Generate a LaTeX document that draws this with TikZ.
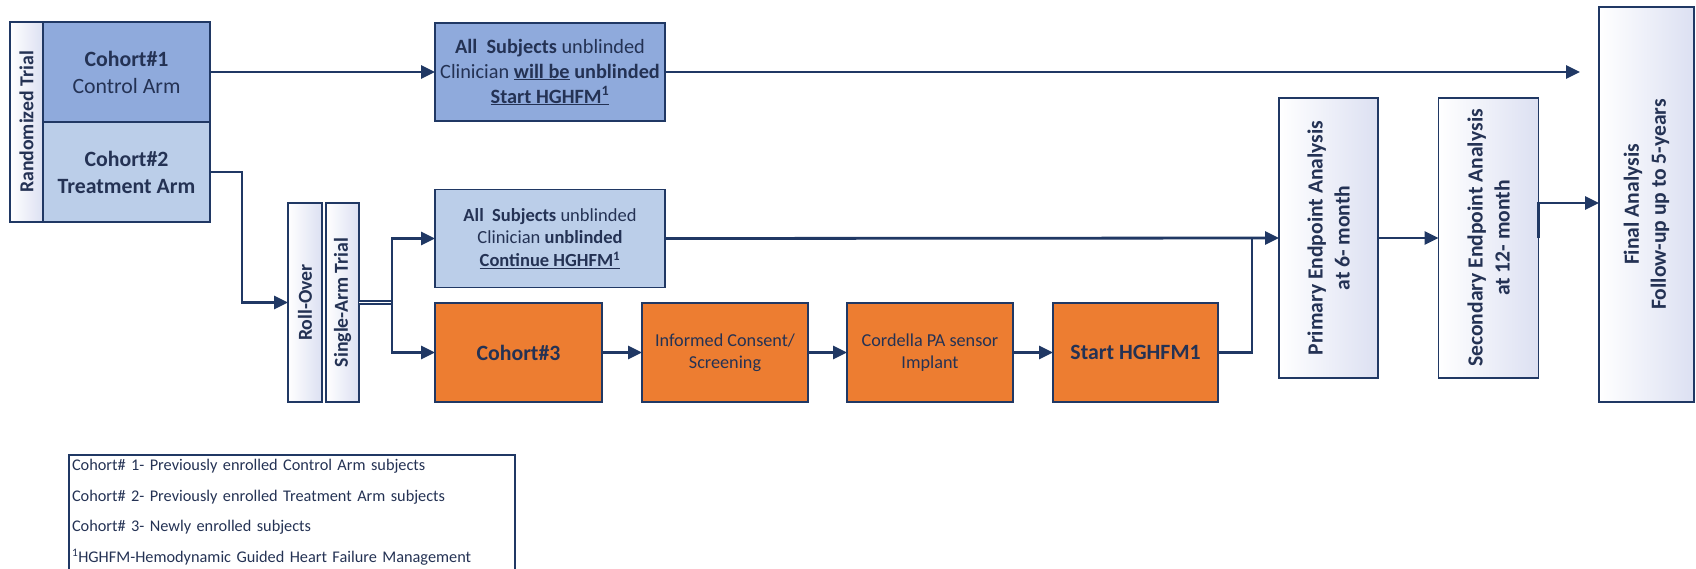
\documentclass[tikz,border=0pt]{standalone}
\usepackage{fontspec}
\setmainfont{Carlito}
\usepackage{tikz}
\usetikzlibrary{arrows.meta,positioning}

\definecolor{navyLine}{RGB}{32,56,100}
\definecolor{navyText}{RGB}{36,50,84}
\definecolor{armBlue}{RGB}{143,170,220}
\definecolor{armLight}{RGB}{187,206,233}
\definecolor{stepOrange}{RGB}{237,125,49}
\definecolor{paleLilac}{RGB}{220,224,242}

\begin{document}
\begin{tikzpicture}[x=1pt,y=-1pt,>={Triangle[length=14pt,width=13pt]}]
  \tikzstyle{box} = [draw=navyLine, line width=1.6pt, rectangle, outer sep=0pt, inner sep=2pt, align=center, text=navyText]
  \tikzstyle{cohortBox} = [box, fill=armBlue, minimum width=167pt, minimum height=100pt, font={\fontsize{21.8}{27}\selectfont}]
  \tikzstyle{noteBox} = [box, minimum width=230pt, minimum height=98pt, font={\fontsize{20.3}{25}\selectfont}]
  \tikzstyle{stepBox} = [box, fill=stepOrange, minimum width=166pt, minimum height=99pt, font={\fontsize{18.2}{21.5}\selectfont}]
  \tikzstyle{barBox} = [box, rotate=90, left color=white, right color=paleLilac, minimum width=199pt, minimum height=33pt, font={\fontsize{19.8}{24}\selectfont\bfseries}]
  \tikzstyle{phaseBox} = [barBox, minimum width=280pt, minimum height=99pt, font={\fontsize{21.6}{27}\selectfont\bfseries}]
  \tikzstyle{keyBox} = [draw=navyLine, line width=1.2pt, rectangle, outer sep=0pt, inner xsep=3pt, inner ysep=4pt, align=left, text width=440pt, text depth=122pt, text=navyText, font={\fontsize{16.3}{30.7}\selectfont}]

  \tikzstyle{flowEdgePortion} = [navyLine, line width=2.8pt];
  \tikzstyle{flowEdge} = [flowEdgePortion,->];

  \useasboundingbox (0,0) rectangle (1696,568);

  \node[cohortBox]                        (C1) at (126.5,72)  {\textbf{Cohort\#1}\\Control Arm};
  \node[cohortBox, fill=armLight]         (C2) [below=0pt of C1] {\textbf{Cohort\#2}\\\textbf{Treatment Arm}};
  \node[barBox, minimum width=200pt]      (Rand) at (26.5,122) {Randomized Trial};

  \node[noteBox, fill=armBlue]            (B1) [right=225pt of C1] {\textbf{All\ \ Subjects} unblinded\\Clinician \underline{\textbf{will be}} \textbf{unblinded}\\\underline{\textbf{Start HGHFM}\textsuperscript{\textbf{1}}}};
  \node[noteBox, fill=armLight, font={\fontsize{18.5}{22.5}\selectfont}] (B2) at (550,238.5) {\textbf{All\ \ Subjects} unblinded\\Clinician \textbf{unblinded}\\\underline{\textbf{Continue HGHFM}\textsuperscript{\textbf{1}}}};

  \node[barBox, minimum height=34pt]      (Roll) at (305,302.5)   {Roll-Over};
  \node[barBox]                           (Single) at (342.5,302.5) {Single-Arm Trial};

  \node[stepBox, minimum width=167pt, font={\fontsize{21.8}{27}\selectfont\bfseries}] (C3) at (518.5,352.5) {Cohort\#3};
  \node[stepBox]                          (Inf) [right=40pt of C3]   {Informed Consent/\\Screening};
  \node[stepBox]                          (Cord) [right=39pt of Inf] {Cordella PA sensor\\Implant};
  \node[stepBox, minimum width=165pt, font={\fontsize{21.8}{27}\selectfont\bfseries}] (Start) [right=40pt of Cord] {Start HGHFM1};

  \node[phaseBox]                         (Prim) at (1328.5,238) {Primary Endpoint Analysis\\at 6- month};
  \node[phaseBox, minimum height=100pt]   (Sec) at (1488.5,238)  {Secondary Endpoint Analysis\\at 12- month};
  \node[phaseBox, minimum width=395pt, minimum height=95pt] (Final) at (1646.5,204.5) {Final Analysis\\Follow-up up to 5-years};

  \node[keyBox, anchor=north west]        (Key) at (69,455) {Cohort\# 1- Previously enrolled Control Arm subjects\\Cohort\# 2- Previously enrolled Treatment Arm subjects\\Cohort\# 3- Newly enrolled subjects\\\textsuperscript{1}HGHFM-Hemodynamic Guided Heart Failure Management};

  \coordinate (topEnd) at (1580,72);
  \coordinate (split) at (392,302.5);
  \coordinate (join) at (1252,238);
  \coordinate (secOut) at (1538.5,203);

  \draw[flowEdge] (C1.east) -- (B1.west);
  \draw[flowEdge] (B1.east) -- (topEnd);
  \draw[flowEdge] (C2.east) -- ++(32,0) |- (Roll.north);
  \draw[flowEdgePortion, line width=1.3pt, double, double distance=1.8pt] (Single.south) -- (split);
  \draw[flowEdge] (split) |- (B2.west);
  \draw[flowEdge] (split) |- (C3.west);
  \draw[flowEdge] (C3) -- (Inf);
  \draw[flowEdge] (Inf) -- (Cord);
  \draw[flowEdge] (Cord) -- (Start);
  \draw[flowEdgePortion] (Start.east) -| (join);
  \draw[flowEdge] (B2.east) -- (Prim.north);
  \draw[flowEdge] (Prim.south) -- (Sec.north);
  \draw[flowEdge] (Sec.south) -- (secOut) -- (secOut -| Final.north);
\end{tikzpicture}
\end{document}
